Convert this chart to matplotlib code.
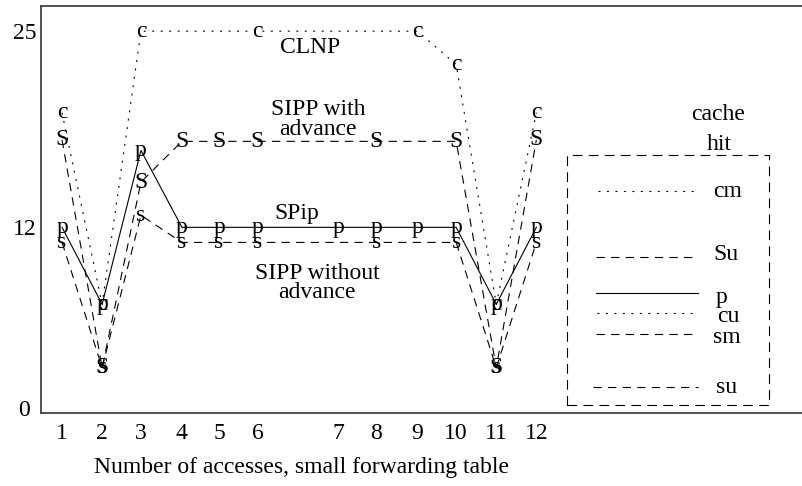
import matplotlib
matplotlib.use('Agg')
import matplotlib.pyplot as plt
from matplotlib.lines import Line2D
from matplotlib.patches import Rectangle

plt.rcParams['font.family'] = ['Liberation Serif', 'DejaVu Serif']
plt.rcParams['lines.scale_dashes'] = False

# ---------------- data ----------------
access_x = [1.00, 1.93, 2.83, 3.78, 4.64, 5.53, 7.41, 8.29, 9.24, 10.14, 11.07, 12.00]
x_tick_labels = ['1', '2', '3', '4', '5', '6', '7', '8', '9', '10', '11', '12']
y_ticks = [0, 12, 25]
y_tick_labels = ['0', '12', '25']

clnp_idx = [0, 1, 2, 5, 8, 9, 10, 11]
clnp_vals = [19.6, 6.9, 25.0, 25.0, 25.0, 22.8, 6.9, 19.6]

sipp_adv_idx = [0, 1, 2, 3, 4, 5, 7, 9, 10, 11]
sipp_adv_vals = [17.8, 2.7, 15.0, 17.7, 17.7, 17.7, 17.7, 17.7, 2.7, 17.8]

spip_idx = [0, 1, 2, 3, 4, 5, 6, 7, 8, 9, 10, 11]
spip_vals = [12.0, 6.9, 17.1, 12.0, 12.0, 12.0, 12.0, 12.0, 12.0, 12.0, 6.9, 12.0]

sipp_noadv_idx = [0, 1, 2, 3, 4, 5, 7, 9, 10, 11]
sipp_noadv_vals = [11.0, 2.7, 12.8, 11.0, 11.0, 11.0, 11.0, 11.0, 2.7, 11.0]

legend_labels = ['cm', 'Su', 'p', 'cu', 'sm', 'su']

# ---------------- styles ----------------
DOT = (0, (1.4, 4.7))
DASH = (0, (6.0, 4.5))
BOX_DASH = (0, (7.0, 4.5))
FS = 17

W, H = 802, 486
fig = plt.figure(figsize=(W / 100, H / 100), dpi=100)


def fp(x, y):
    """pixel position (from top-left) -> figure fraction"""
    return x / W, 1 - y / H


ax_l, ax_t, ax_b, ax_r = 41, 6, 413, 802
ax = fig.add_axes([ax_l / W, 1 - ax_b / H, (ax_r - ax_l) / W, (ax_b - ax_t) / H])

# data scales chosen so the layout matches the reference
ax.set_xlim(0.512, 18.16)
ax.set_ylim(-0.305, 26.67)

series = [
    (clnp_idx, clnp_vals, DOT, 'c'),
    (sipp_adv_idx, sipp_adv_vals, DASH, 'S'),
    (spip_idx, spip_vals, '-', 'p'),
    (sipp_noadv_idx, sipp_noadv_vals, DASH, 's'),
]
for idx, vals, ls, mk in series:
    xs = [access_x[i] for i in idx]
    ax.plot(xs, vals, color='black', lw=0.8, linestyle=ls)
    for xv, yv in zip(xs, vals):
        ax.text(xv, yv, mk, ha='center', va='center', fontsize=FS, color='black')

# axes frame
for side in ['left', 'top', 'bottom']:
    ax.spines[side].set_color('#444444')
    ax.spines[side].set_linewidth(1.3)
ax.spines['right'].set_visible(False)

ax.set_xticks(access_x)
ax.set_xticklabels(x_tick_labels, fontsize=FS)
ax.set_yticks(y_ticks)
ax.set_yticklabels(y_tick_labels, fontsize=FS)
ax.tick_params(axis='both', length=0)
ax.tick_params(axis='x', pad=7)
ax.tick_params(axis='y', pad=12)
for lab in ax.get_yticklabels():
    lab.set_horizontalalignment('center')

# x label
fig.text(*fp(302, 467), 'Number of accesses, small forwarding table',
         ha='center', va='center', fontsize=FS)

# series annotations
annots = [
    ('CLNP', 310, 47),
    ('SIPP with', 318, 109),
    ('advance', 318, 129),
    ('SPip', 297, 214),
    ('SIPP without', 317, 273),
    ('advance', 317, 293),
]
for txt, px, py in annots:
    fig.text(*fp(px, py), txt, ha='center', va='center', fontsize=FS)

# legend (manual, dashed box)
fig.text(*fp(718, 114), 'cache', ha='center', va='center', fontsize=FS)
fig.text(*fp(719, 144), 'hit', ha='center', va='center', fontsize=FS)
bx0, by0 = fp(567, 405)
bx1, by1 = fp(769, 155)
fig.add_artist(Rectangle((bx0, by0), bx1 - bx0, by1 - by0, transform=fig.transFigure,
                         fill=False, edgecolor='black', lw=0.8, linestyle=BOX_DASH))

legend_styles = [DOT, DASH, '-', DOT, DASH, DASH]
legend_line_y = [191, 257, 293, 313, 334, 387]
legend_text_y = [191, 255, 298, 317, 337, 387]
legend_text_x = [713, 713, 716, 717, 713, 716]
legend_line_x = [(598, 697), (596, 698), (596, 698), (597, 697), (596, 698), (593, 698)]
for lab, ls, ly, ty, tx, (lx0, lx1) in zip(legend_labels, legend_styles, legend_line_y,
                                          legend_text_y, legend_text_x, legend_line_x):
    x0, y0 = fp(lx0, ly)
    x1, _ = fp(lx1, ly)
    fig.add_artist(Line2D([x0, x1], [y0, y0], transform=fig.transFigure,
                          color='black', lw=0.8, linestyle=ls))
    fig.text(*fp(tx, ty), lab, ha='left', va='center', fontsize=FS)

fig.savefig('out.png', dpi=100)
